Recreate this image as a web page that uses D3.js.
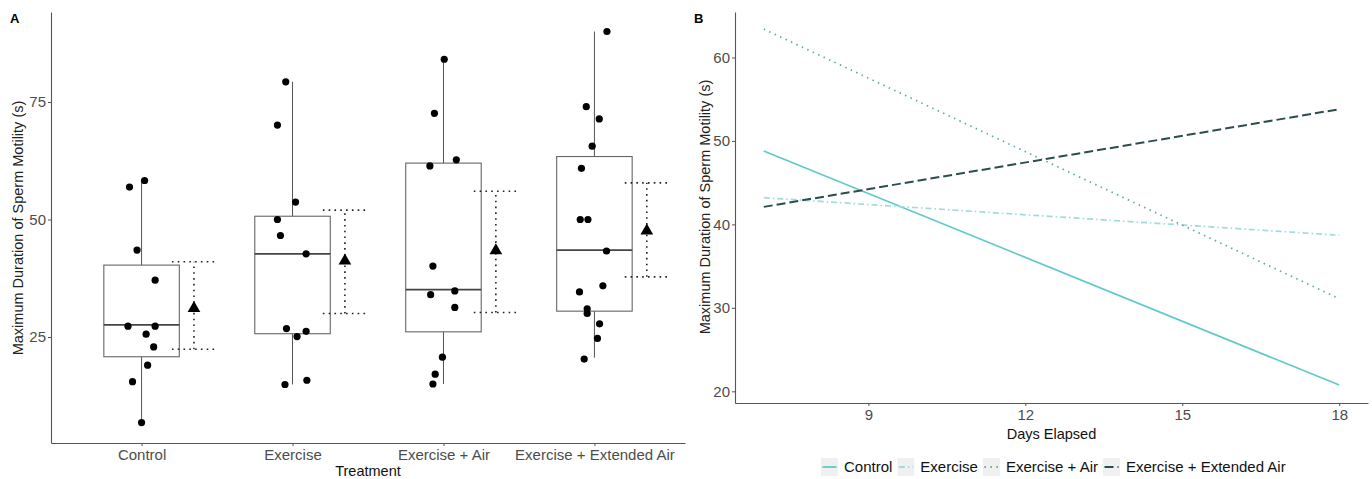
<!DOCTYPE html>
<html>
<head>
<meta charset="utf-8">
<script src="https://cdn.jsdelivr.net/npm/d3@7"></script>
<style>
  body { margin: 0; background: #fff; }
  text { font-family: "Liberation Sans", Arial, sans-serif; }
</style>
</head>
<body>
<div id="chart"></div>
<script>
// ---- panel A data ----
const treatments = ["Control", "Exercise", "Exercise + Air", "Exercise + Extended Air"];

// individual observations per treatment: [value, jitter (fraction of category step)]
const obsControl = [[56.9, -0.08], [58.3, 0.02], [43.5, -0.03], [37.1, 0.09], [27.3, -0.09], [27.3, 0.09],
  [25.6, 0.03], [22.9, 0.08], [19.0, 0.04], [15.5, -0.06], [6.8, 0.0]];
const obsExercise = [[79.3, -0.045], [70.1, -0.1], [53.7, 0.02], [50.0, -0.1], [46.6, -0.08], [42.7, 0.09],
  [26.8, -0.04], [26.2, 0.09], [25.1, 0.03], [14.9, -0.05], [15.8, 0.095]];
const obsAir = [[84.1, 0.005], [72.6, -0.06], [62.7, 0.085], [61.4, -0.09], [40.1, -0.07], [34.0, -0.085],
  [34.8, 0.075], [31.3, 0.075], [20.7, -0.007], [17.1, -0.055], [15.0, -0.07]];
const obsExtAir = [[90.0, 0.083], [74.0, -0.054], [71.4, 0.032], [65.6, -0.015], [60.9, -0.086], [50.0, -0.094],
  [50.0, -0.043], [43.3, 0.08], [35.9, 0.056], [34.6, -0.099], [31.0, -0.048], [30.0, -0.048],
  [27.8, 0.034], [24.7, 0.02], [20.3, -0.068]];
const observations = [obsControl, obsExercise, obsAir, obsExtAir];

// box statistics per treatment
const whiskerLow = [6.8, 14.9, 15.0, 20.6];
const boxLow = [20.8, 25.7, 26.1, 30.5];
const boxMedian = [27.6, 42.7, 35.1, 43.5];
const boxHigh = [40.3, 50.7, 62.0, 63.4];
const whiskerHigh = [58.3, 79.3, 84.1, 90.0];

// mean and interval
const meanVals = [31.1, 41.2, 43.4, 47.6];
const ciLow = [22.4, 30.0, 30.2, 37.8];
const ciHigh = [41.0, 52.0, 56.0, 57.8];

const yTicksA = [25, 50, 75];

// ---- panel B data ----
const dayEnds = [7, 18];
const fitControl = [48.8, 20.75];
const fitExercise = [43.2, 38.7];
const fitAir = [63.4, 31.1];
const fitExtAir = [42.1, 53.8];
const xTicksB = [9, 12, 15, 18];
const yTicksB = [20, 30, 40, 50, 60];

const lineColors = ["#62c9c9", "#a3dada", "#5ea9a9", "#2c4d4d"];
const lineDash = [null, "6,3,1.5,3", "1.5,4.5", "9,4"];

const W = 1372, H = 479;
const svg = d3.select("#chart").append("svg").attr("width", W).attr("height", H);

const axisCol = "#555";
const tickCol = "#4d4d4d";

function styleAxis(g) {
  g.select(".domain").attr("stroke", axisCol).attr("stroke-width", 1.1);
  g.selectAll(".tick line").attr("stroke", axisCol);
  g.selectAll(".tick text").attr("fill", tickCol).style("font-size", "15px")
    .style("font-family", "'Liberation Sans', Arial, sans-serif");
}

// ================= Panel A =================
const xA = d3.scalePoint().domain(treatments).range([51, 685]).padding(0.6);
const yA = d3.scaleLinear().domain([2.45, 94.15]).range([443, 12]);
const step = xA.step();

svg.append("g").attr("transform", "translate(51,0)")
  .call(d3.axisLeft(yA).tickValues(yTicksA).tickSize(3).tickPadding(2).tickSizeOuter(0))
  .call(styleAxis);
svg.append("g").attr("transform", "translate(0,443)")
  .call(d3.axisBottom(xA).tickSize(3).tickPadding(3).tickSizeOuter(0))
  .call(styleAxis);

const gA = svg.append("g");
const boxHalf = step * 0.25;

treatments.forEach((t, i) => {
  const cx = xA(t);
  // whiskers
  gA.append("line").attr("x1", cx).attr("x2", cx)
    .attr("y1", yA(whiskerHigh[i])).attr("y2", yA(boxHigh[i]))
    .attr("stroke", "#555").attr("stroke-width", 1);
  gA.append("line").attr("x1", cx).attr("x2", cx)
    .attr("y1", yA(boxLow[i])).attr("y2", yA(whiskerLow[i]))
    .attr("stroke", "#555").attr("stroke-width", 1);
  // box
  gA.append("rect").attr("x", cx - boxHalf).attr("y", yA(boxHigh[i]))
    .attr("width", boxHalf * 2).attr("height", yA(boxLow[i]) - yA(boxHigh[i]))
    .attr("fill", "none").attr("stroke", "#666").attr("stroke-width", 1.1);
  gA.append("line").attr("x1", cx - boxHalf).attr("x2", cx + boxHalf)
    .attr("y1", yA(boxMedian[i])).attr("y2", yA(boxMedian[i]))
    .attr("stroke", "#444").attr("stroke-width", 1.8);

  // mean +/- interval
  const mx = cx + step * 0.347;
  const capHalf = step * 0.146;
  [ciLow[i], ciHigh[i]].forEach(v => {
    gA.append("line").attr("x1", mx - capHalf).attr("x2", mx + capHalf)
      .attr("y1", yA(v)).attr("y2", yA(v))
      .attr("stroke", "#222").attr("stroke-width", 1.6).attr("stroke-dasharray", "1.6,4.2");
  });
  gA.append("line").attr("x1", mx).attr("x2", mx)
    .attr("y1", yA(ciLow[i])).attr("y2", yA(ciHigh[i]))
    .attr("stroke", "#222").attr("stroke-width", 1.6).attr("stroke-dasharray", "1.6,4.2");
  gA.append("path").attr("d", d3.symbol(d3.symbolTriangle, 70)())
    .attr("transform", `translate(${mx},${yA(meanVals[i])})`)
    .attr("fill", "#000");

  // jittered points
  gA.selectAll(null).data(observations[i]).join("circle")
    .attr("cx", d => cx + d[1] * step)
    .attr("cy", d => yA(d[0]))
    .attr("r", 3.6)
    .attr("fill", "#000");
});

svg.append("text").attr("x", 368).attr("y", 476)
  .attr("text-anchor", "middle").style("font-size", "14.5px").attr("fill", "#111")
  .text("Treatment");
svg.append("text").attr("transform", "translate(23,228) rotate(-90)")
  .attr("text-anchor", "middle").style("font-size", "14.5px").attr("fill", "#222")
  .text("Maximum Duration of Sperm Motility (s)");
svg.append("text").attr("x", 10).attr("y", 23)
  .style("font-size", "13px").style("font-weight", "bold").text("A");

// ================= Panel B =================
const xB = d3.scaleLinear().domain([6.45, 18.55]).range([735, 1368]);
const yB = d3.scaleLinear().domain([18.6, 65.45]).range([403, 12]);

svg.append("g").attr("transform", "translate(735,0)")
  .call(d3.axisLeft(yB).tickValues(yTicksB).tickSize(3).tickPadding(2).tickSizeOuter(0))
  .call(styleAxis);
svg.append("g").attr("transform", "translate(0,403)")
  .call(d3.axisBottom(xB).tickValues(xTicksB).tickSize(3).tickPadding(3).tickSizeOuter(0))
  .call(styleAxis);

const fits = [fitControl, fitExercise, fitAir, fitExtAir];
const line = d3.line().x(d => xB(d[0])).y(d => yB(d[1]));
fits.forEach((f, i) => {
  svg.append("path")
    .attr("d", line(dayEnds.map((d, j) => [d, f[j]])))
    .attr("fill", "none")
    .attr("stroke", lineColors[i])
    .attr("stroke-width", i === 3 ? 2 : 1.7)
    .attr("stroke-dasharray", lineDash[i]);
});

svg.append("text").attr("x", 1051.5).attr("y", 439)
  .attr("text-anchor", "middle").style("font-size", "14.5px").attr("fill", "#111")
  .text("Days Elapsed");
svg.append("text").attr("transform", "translate(710,207) rotate(-90)")
  .attr("text-anchor", "middle").style("font-size", "14.5px").attr("fill", "#222")
  .text("Maximum Duration of Sperm Motility (s)");
svg.append("text").attr("x", 694).attr("y", 23)
  .style("font-size", "13px").style("font-weight", "bold").text("B");

// legend
const legend = svg.append("g").attr("transform", "translate(821,467)");
let lx = 0;
treatments.forEach((t, i) => {
  const g = legend.append("g").attr("transform", `translate(${lx},0)`);
  g.append("rect").attr("x", 0).attr("y", -9).attr("width", 17).attr("height", 18).attr("fill", "#f0f0f0");
  g.append("line").attr("x1", 1.5).attr("x2", 15.5).attr("y1", 0).attr("y2", 0)
    .attr("stroke", lineColors[i]).attr("stroke-width", 1.8)
    .attr("stroke-dasharray", lineDash[i]);
  const txt = g.append("text").attr("x", 23).attr("y", 5)
    .style("font-size", "15px").attr("fill", "#111").text(t);
  lx += 23 + txt.node().getComputedTextLength() + 5;
});
</script>
</body>
</html>
